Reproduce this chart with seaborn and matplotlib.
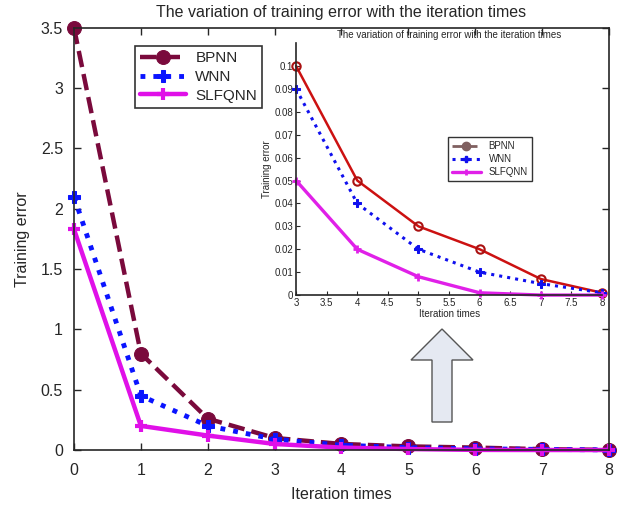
import matplotlib
matplotlib.use('Agg')
import matplotlib.pyplot as plt
import seaborn as sns
from matplotlib.patches import Polygon
from matplotlib.lines import Line2D
from matplotlib.ticker import FuncFormatter

# data
iters = [0, 1, 2, 3, 4, 5, 6, 7, 8]
bpnn = [3.5, 0.8, 0.26, 0.1, 0.05, 0.03, 0.02, 0.007, 0.001]
wnn = [2.1, 0.45, 0.2, 0.09, 0.04, 0.02, 0.01, 0.005, 0.001]
slfqnn = [1.83, 0.2, 0.12, 0.05, 0.02, 0.008, 0.001, 0.0, 0.0]

zoom_iters = iters[3:]
zoom_bpnn = bpnn[3:]
zoom_wnn = wnn[3:]
zoom_slfqnn = slfqnn[3:]

names = ['BPNN', 'WNN', 'SLFQNN']

sns.set_style('ticks')
plt.rcParams['font.family'] = ['Liberation Sans', 'DejaVu Sans']
fmt = FuncFormatter(lambda v, p: '%g' % round(v, 6))

fig = plt.figure(figsize=(6.22, 5.07), dpi=100)
ax = fig.add_axes([0.119, 0.1124, 0.86, 0.8326])

sns.lineplot(x=iters, y=bpnn, ax=ax, color='#7a0a3c', linestyle='--', lw=3.2,
             marker='o', ms=10, mec='#7a0a3c', label=names[0], clip_on=False)
sns.lineplot(x=iters, y=wnn, ax=ax, color='#0a14ff', linestyle=':', lw=3.5,
             marker='P', ms=8, mec='#0a14ff', label=names[1], clip_on=False)
sns.lineplot(x=iters, y=slfqnn, ax=ax, color='#e010e8', linestyle='-', lw=3.2,
             marker='+', ms=8, mew=3, mec='#e010e8', label=names[2], clip_on=False)

ax.set_xlim(0, 8)
ax.set_ylim(0, 3.5)
ax.set_xticks(range(0, 9))
ax.set_yticks([0, 0.5, 1, 1.5, 2, 2.5, 3, 3.5])
ax.xaxis.set_major_formatter(fmt)
ax.yaxis.set_major_formatter(fmt)
ax.tick_params(direction='in', top=True, right=True, labelsize=11.5, length=5, width=1)
ax.tick_params(axis='x', pad=9)
ax.tick_params(axis='y', pad=8)
for s in ax.spines.values():
    s.set_linewidth(1.2)
ax.set_xlabel('Iteration times', fontsize=11.5, labelpad=7)
ax.set_ylabel('Training error', fontsize=11.5, labelpad=8)
ax.set_title('The variation of training error with the iteration times', fontsize=11.5, pad=8)
leg = ax.legend(loc='upper left', bbox_to_anchor=(0.114, 0.957), fontsize=11,
                frameon=True, fancybox=False, edgecolor='black', handlelength=3.0,
                borderpad=0.35, labelspacing=0.3, handletextpad=0.6, borderaxespad=0)
leg.get_frame().set_linewidth(1.2)

# up arrow between main plot and zoomed inset (pixel coords -> figure fraction)
W, H = 622, 507
pts = [(442, 329), (473, 360), (452, 360), (452, 422), (432, 422), (432, 360), (411, 360)]
arrow = Polygon([(x / W, 1 - y / H) for x, y in pts], closed=True,
                transform=fig.transFigure, facecolor='#e5e9f2', edgecolor='#555555', lw=1)
fig.patches.append(arrow)

# zoomed inset
ins = fig.add_axes([0.476, 0.418, 0.492, 0.497])
ins.set_facecolor('white')
sns.lineplot(x=zoom_iters, y=zoom_bpnn, ax=ins, color='#cc1111', lw=1.8,
             marker='o', ms=6, mfc='none', mec='#aa1111', mew=1.5, clip_on=False)
sns.lineplot(x=zoom_iters, y=zoom_wnn, ax=ins, color='#1010ee', linestyle=':', lw=2.2,
             marker='P', ms=6, mec='#1010ee', clip_on=False)
sns.lineplot(x=zoom_iters, y=zoom_slfqnn, ax=ins, color='#e020e8', lw=2.4,
             marker='+', ms=6, mew=2, mec='#e020e8', clip_on=False)
ins.set_xlim(3, 8)
ins.set_ylim(0, 0.11)
ins.set_xticks([3, 3.5, 4, 4.5, 5, 5.5, 6, 6.5, 7, 7.5, 8])
ins.set_yticks([0, 0.01, 0.02, 0.03, 0.04, 0.05, 0.06, 0.07, 0.08, 0.09, 0.1])
ins.xaxis.set_major_formatter(fmt)
ins.yaxis.set_major_formatter(fmt)
ins.tick_params(direction='in', labelsize=7, length=3, pad=2)
sns.despine(ax=ins)
for s in ins.spines.values():
    s.set_linewidth(1.2)
ins.set_xlabel('Iteration times', fontsize=7, labelpad=1)
ins.set_ylabel('Training error', fontsize=7, labelpad=2)
ins.set_title('The variation of training error with the iteration times', fontsize=7, pad=4)
handles = [
    Line2D([], [], color='#806060', linestyle='--', lw=2, marker='o', ms=6, mfc='#806060'),
    Line2D([], [], color='#1010ee', linestyle=':', lw=2.2, marker='P', ms=5),
    Line2D([], [], color='#e020e8', lw=2.4, marker='+', ms=5, mew=2),
]
leg2 = ins.legend(handles, names, loc='upper left', bbox_to_anchor=(0.48, 0.645), fontsize=7,
                  frameon=True, fancybox=False, edgecolor='black', handlelength=3,
                  borderpad=0.4, labelspacing=0.3)
leg2.get_frame().set_linewidth(1)

fig.savefig('out.png', dpi=100)
